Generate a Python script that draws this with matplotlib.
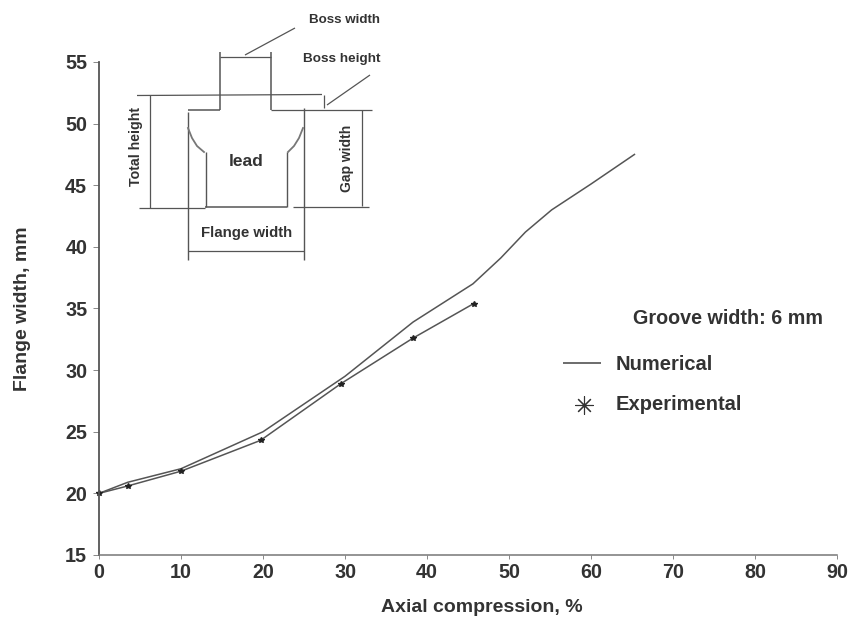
import matplotlib
matplotlib.use("Agg")
import matplotlib.pyplot as plt

plt.rcParams['font.family'] = ['Liberation Sans', 'DejaVu Sans']

num_x = [0, 3.5, 10, 20, 30, 38.3, 45.6, 49, 52, 55.2, 60, 65.3]
num_y = [20, 20.9, 22, 25, 29.5, 33.9, 37, 39.1, 41.2, 43, 45.1, 47.5]
exp_x = [0, 3.5, 10, 19.7, 29.5, 38.3, 45.7]
exp_y = [20, 20.6, 21.8, 24.3, 28.9, 32.6, 35.4]
x_ticks = list(range(0, 100, 10))
y_ticks = list(range(15, 60, 5))

W, H = 855, 619
DARK = '#333333'
LINE = '#555555'

fig = plt.figure(figsize=(W / 100, H / 100), dpi=100)
ax = fig.add_axes([99 / W, 1 - 555 / H, (837 - 99) / W, (555 - 62) / H])
ax.set_xlim(0, 90)
ax.set_ylim(15, 55)
for s in ('top', 'right'):
    ax.spines[s].set_visible(False)
ax.spines['left'].set_color(LINE)
ax.spines['left'].set_linewidth(1.3)
ax.spines['bottom'].set_color('#777777')
ax.spines['bottom'].set_linewidth(1.1)
ax.set_xticks(x_ticks)
ax.set_yticks(y_ticks)
ax.tick_params(axis='x', colors='#888888', labelcolor=DARK, labelsize=14.2, length=3, width=0.7, pad=3)
ax.tick_params(axis='y', colors='#888888', labelcolor=DARK, labelsize=14.2, length=4, width=0.7, pad=4.5)
for lab in ax.get_xticklabels() + ax.get_yticklabels():
    lab.set_fontweight('bold')
ax.set_xlabel('Axial compression, %', fontsize=14, fontweight='bold', color=DARK)
ax.set_ylabel('Flange width, mm', fontsize=14, fontweight='bold', color=DARK)
ax.xaxis.set_label_coords((482 - 99) / 738, -(599 - 555) / 493)
ax.yaxis.set_label_coords((31 - 99) / 738, (555 - 309) / 493)

ax.plot(num_x, num_y, color=LINE, lw=1.1, clip_on=False)
ax.plot(exp_x, exp_y, color=LINE, lw=1.1, clip_on=False)
ax.plot(exp_x, exp_y, ls='none', marker='*', ms=4, color='#222222', clip_on=False)

# overlay in reference pixel coordinates for the schematic and the key
ov = fig.add_axes([0, 0, 1, 1], facecolor='none')
ov.set_xlim(0, W)
ov.set_ylim(H, 0)
ov.axis('off')

def seg(x0, y0, x1, y1, lw=0.9, c=LINE):
    ov.plot([x0, x1], [y0, y1], color=c, lw=lw, solid_capstyle='butt')

def txt(x, y, s, size=8.5, rot=0, ha='center'):
    ov.text(x, y, s, fontsize=size, fontweight='bold', color=DARK, rotation=rot,
            ha=ha, va='center')

# schematic outline
seg(220, 52, 220, 110, 1.1)
seg(270.5, 52, 270.5, 110, 1.1)
seg(220, 57, 270.5, 57)
seg(137, 95.5, 322, 94.5)
seg(188, 110, 220, 110, 1.1)
seg(270.5, 110, 372, 110, 0.9)
seg(188, 112, 188, 260, 1.0)
seg(304, 108, 304, 260, 1.0)
seg(205.5, 152, 205.5, 207, 1.0)
seg(287, 152, 287, 207, 1.0)
seg(139, 208, 205, 208)
seg(205, 207, 287, 207, 1.1)
seg(293, 206.5, 369, 206.5)
seg(188, 251, 304, 251)
seg(150, 95, 150, 208)
seg(362, 110, 362, 206)
seg(324, 95, 324, 108)
seg(245, 55, 295, 28)
seg(327, 105, 370, 75)
ov.plot([188, 192, 197, 204], [128, 138, 146, 152], color='#777777', lw=1.3)
ov.plot([303, 299, 294, 288], [128, 138, 146, 152], color='#777777', lw=1.3)

txt(344, 20, 'Boss width', 9.6)
txt(342, 59, 'Boss height', 9.7)
txt(246, 161, 'lead', 12.5)
txt(247, 233, 'Flange width', 10.8)
txt(136, 147, 'Total height', 10.2, rot=90)
txt(347, 158, 'Gap width', 10, rot=90)

# key
txt(823, 319, 'Groove width: 6 mm', 14.2, ha='right')
txt(616, 364, 'Numerical', 14.5, ha='left')
txt(616, 404, 'Experimental', 14.5, ha='left')
seg(563, 363, 601, 363, 1.1, '#444444')
ov.plot([584], [405], ls='none', marker=(8, 2, 0), ms=13, mew=0.8, color='#333333')

fig.savefig('out.png', dpi=100, facecolor='white')
